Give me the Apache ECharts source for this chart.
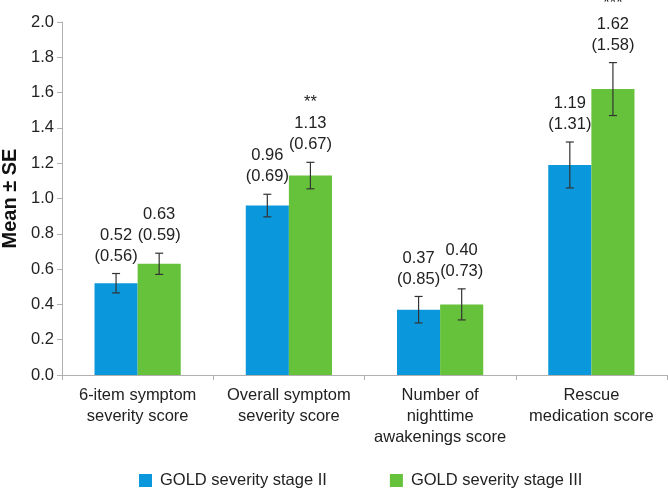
<!DOCTYPE html>
<html>
<head>
<meta charset="utf-8">
<script src="https://cdn.jsdelivr.net/npm/echarts@6/dist/echarts.min.js"></script>
<style>html,body{margin:0;padding:0;background:#fff}#c{width:668px;height:488px}</style>
</head>
<body>
<div id="c"></div>
<script>
const categories = ['6-item symptom\nseverity score', 'Overall symptom\nseverity score', 'Number of\nnighttime\nawakenings score', 'Rescue\nmedication score'];
const seriesNames = ['GOLD severity stage II', 'GOLD severity stage III'];
const stage2Mean = [0.52, 0.96, 0.37, 1.19];
const stage3Mean = [0.63, 1.13, 0.40, 1.62];
const stage2SE = [0.055, 0.064, 0.075, 0.13];
const stage3SE = [0.06, 0.075, 0.088, 0.15];
const stage2SD = ['0.56', '0.69', '0.85', '1.31'];
const stage3SD = ['0.59', '0.67', '0.73', '1.58'];
const stage3Sig = ['', '**', '', '***'];
const yTicks = [0, 0.2, 0.4, 0.6, 0.8, 1.0, 1.2, 1.4, 1.6, 1.8, 2.0];

const FONT = 'Liberation Sans, Arial, sans-serif';
const FS = 16.5;
const BLUE = '#0A97DB';
const GREEN = '#66C13B';
const BAR_FRAC = 0.285;

function makeLabels(means, sds, sig) {
  return means.map((m, i) => (sig && sig[i] ? sig[i] + '\n' : '') + m.toFixed(2) + '\n(' + sds[i] + ')');
}
function errData(means, ses) {
  return means.map((m, i) => [i, m, ses[i]]);
}

function makeRender(side, labels) {
  return function (params, api) {
    const x = api.value(0), m = api.value(1), se = api.value(2);
    const lab = labels[params.dataIndex];
    const band = api.size([1, 0])[0];
    const bw = band * BAR_FRAC;
    const c = api.coord([x, m]);
    const cx = c[0] + side * bw / 2;
    const top = api.coord([x, m + se])[1];
    const bot = api.coord([x, m - se])[1];
    const cap = 4;
    const ls = { stroke: '#333', lineWidth: 1.2 };
    return {
      type: 'group',
      children: [
        { type: 'line', shape: { x1: cx, y1: top, x2: cx, y2: bot }, style: ls },
        { type: 'line', shape: { x1: cx - cap, y1: top, x2: cx + cap, y2: top }, style: ls },
        { type: 'line', shape: { x1: cx - cap, y1: bot, x2: cx + cap, y2: bot }, style: ls },
        { type: 'text', x: cx, y: top - 7, style: { text: lab, x: 0, y: 0, align: 'center', verticalAlign: 'bottom',
            textAlign: 'center', textVerticalAlign: 'bottom',
            fontSize: FS, fontFamily: FONT, lineHeight: 21, fill: '#222' } }
      ]
    };
  };
}

const chart = echarts.init(document.getElementById('c'), null, { renderer: 'canvas' });
chart.setOption({
  animation: false,
  backgroundColor: '#fff',
  textStyle: { fontFamily: FONT },
  grid: { left: 62, right: 1, top: 22, bottom: 113, containLabel: false, outerBoundsMode: 'none' },
  legend: {
    data: seriesNames,
    left: 139, top: 472, padding: 0,
    icon: 'rect', itemWidth: 13, itemHeight: 13, itemGap: 63,
    textStyle: { fontSize: FS, color: '#222', fontFamily: FONT, padding: [0, 0, 0, 3] }
  },
  xAxis: {
    type: 'category',
    data: categories,
    axisLine: { lineStyle: { color: '#b0b0b0', width: 1 } },
    axisTick: { show: true, length: 5, lineStyle: { color: '#b0b0b0' } },
    axisLabel: { fontSize: FS, color: '#222', lineHeight: 21, margin: 10, interval: 0, fontFamily: FONT, hideOverlap: false }
  },
  yAxis: {
    type: 'value',
    min: 0, max: 2.0, interval: 0.2,
    name: 'Mean ± SE',
    nameLocation: 'middle',
    nameGap: 42,
    nameRotate: 90,
    nameTextStyle: { fontSize: 20, fontWeight: 'bold', color: '#111', fontFamily: FONT },
    splitLine: { show: false },
    axisLine: { show: true, lineStyle: { color: '#b0b0b0', width: 1 } },
    axisTick: { show: true, length: 5, lineStyle: { color: '#b0b0b0' } },
    axisLabel: { fontSize: FS, color: '#222', margin: 8, fontFamily: FONT,
      formatter: v => yTicks.includes(Math.round(v * 10) / 10) ? v.toFixed(1) : '' }
  },
  series: [
    { name: seriesNames[0], type: 'bar', data: stage2Mean, barWidth: (BAR_FRAC * 100) + '%', barGap: '0%', itemStyle: { color: BLUE } },
    { name: seriesNames[1], type: 'bar', data: stage3Mean, barWidth: (BAR_FRAC * 100) + '%', barGap: '0%', itemStyle: { color: GREEN } },
    { type: 'custom', renderItem: makeRender(-1, makeLabels(stage2Mean, stage2SD, null)), data: errData(stage2Mean, stage2SE), encode: { x: 0, y: 1 }, z: 5, clip: false },
    { type: 'custom', renderItem: makeRender(1, makeLabels(stage3Mean, stage3SD, stage3Sig)), data: errData(stage3Mean, stage3SE), encode: { x: 0, y: 1 }, z: 5, clip: false }
  ]
});
</script>
</body>
</html>
